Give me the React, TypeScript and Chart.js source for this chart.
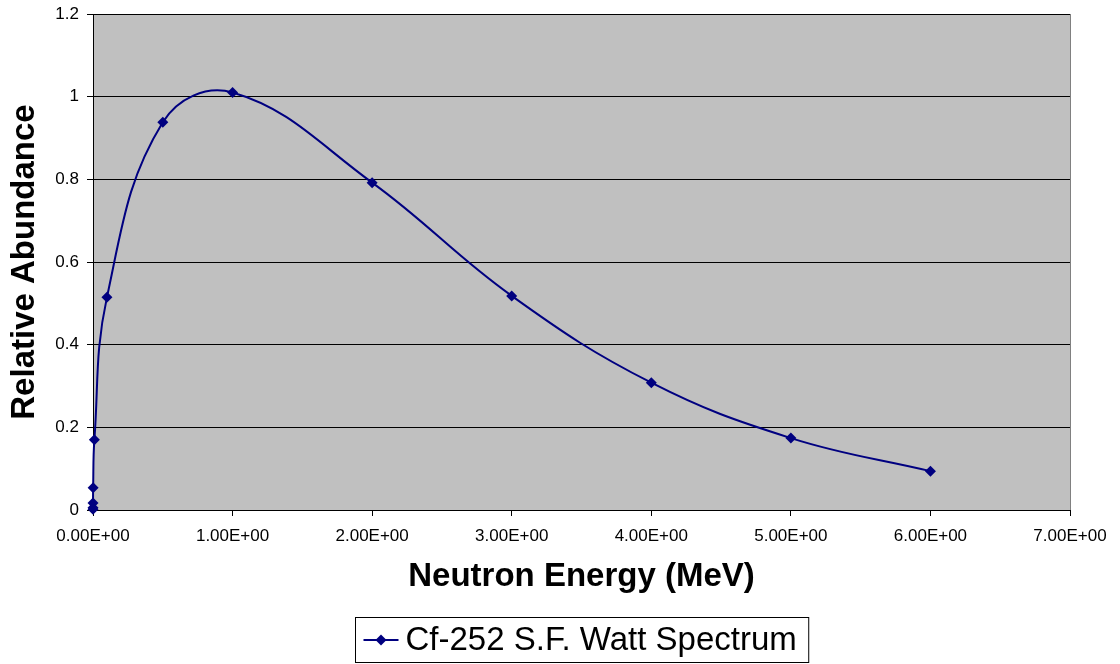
import React, { useEffect, useRef } from "react";
import { Chart, registerables } from "chart.js";

Chart.register(...registerables);

const energies: number[] = [0.000001, 0.00001, 0.0001, 0.001, 0.01, 0.1, 0.5, 1, 2, 3, 4, 5, 6];
const abundance: number[] = [0.0017, 0.0054, 0.017, 0.054, 0.17, 0.515, 0.938, 1.01, 0.792, 0.518, 0.308, 0.174, 0.094];
const seriesLabel = "Cf-252 S.F. Watt Spectrum";
const xTitle = "Neutron Energy (MeV)";
const yTitle = "Relative Abundance";

const FONT = "'Liberation Sans', Arial, sans-serif";
const NAVY = "#000080";

const plotBg = {
  id: "plotBg",
  beforeDraw(chart: any) {
    const { ctx, chartArea } = chart;
    ctx.save();
    ctx.fillStyle = "#C0C0C0";
    ctx.fillRect(chartArea.left, chartArea.top, chartArea.right - chartArea.left, chartArea.bottom - chartArea.top);
    ctx.restore();
  },
  afterDraw(chart: any) {
    const { ctx, chartArea } = chart;
    ctx.save();
    ctx.strokeStyle = "#808080";
    ctx.lineWidth = 1;
    ctx.beginPath();
    ctx.moveTo(Math.round(chartArea.right) + 0.5, chartArea.top);
    ctx.lineTo(Math.round(chartArea.right) + 0.5, chartArea.bottom);
    ctx.stroke();
    // legend box
    const label = chart.data.datasets[0].label;
    ctx.font = `33px ${FONT}`;
    const tw = ctx.measureText(label).width;
    const boxH = 45;
    const sampleW = 50;
    const boxW = tw + sampleW + 12;
    const cx = (chartArea.left + chartArea.right) / 2;
    const bx = Math.round(cx - boxW / 2) + 0.5;
    const by = 617.5;
    ctx.strokeStyle = "#000000";
    ctx.lineWidth = 1;
    ctx.strokeRect(bx, by, boxW, boxH);
    const my = by + boxH / 2;
    ctx.strokeStyle = NAVY;
    ctx.lineWidth = 2;
    ctx.beginPath();
    ctx.moveTo(bx + 8, my);
    ctx.lineTo(bx + 43, my);
    ctx.stroke();
    ctx.fillStyle = NAVY;
    ctx.beginPath();
    const dx = bx + 25.5;
    ctx.moveTo(dx, my - 5.5);
    ctx.lineTo(dx + 5.5, my);
    ctx.lineTo(dx, my + 5.5);
    ctx.lineTo(dx - 5.5, my);
    ctx.closePath();
    ctx.fill();
    ctx.fillStyle = "#000000";
    ctx.textBaseline = "middle";
    ctx.textAlign = "left";
    ctx.fillText(label, bx + sampleW, my + 1);
    ctx.restore();
  },
};

export default function App() {
  const ref = useRef<HTMLCanvasElement | null>(null);
  useEffect(() => {
    if (!ref.current) return;
    const chart = new Chart(ref.current, {
      type: "scatter",
      data: {
        datasets: [
          {
            label: seriesLabel,
            data: energies.map((e, i) => ({ x: e, y: abundance[i] })),
            showLine: true,
            borderColor: NAVY,
            backgroundColor: NAVY,
            borderWidth: 2,
            pointStyle: "rectRot",
            pointRadius: 5.5,
            pointBorderWidth: 0,
            tension: 0.4,
            clip: false as any,
          },
        ],
      },
      plugins: [plotBg],
      options: {
        animation: false,
        responsive: false,
        layout: { padding: { left: 0, right: 50, top: 14, bottom: 0 } },
        plugins: { legend: { display: false }, tooltip: { enabled: false } },
        scales: {
          x: {
            type: "linear",
            min: 0,
            max: 7,
            afterFit: (s: any) => {
              s.height = 154;
              s.paddingLeft = 0;
              s.paddingRight = 0;
            },
            ticks: {
              stepSize: 1,
              padding: 10,
              color: "#000",
              font: { family: FONT, size: 17 },
              maxRotation: 0,
              callback: (v: any) => Number(v).toFixed(2) + "E+00",
            },
            grid: { drawOnChartArea: false, drawTicks: true, tickLength: 6, color: "#000" },
            border: { color: "#000", width: 1 },
            title: {
              display: true,
              text: xTitle,
              color: "#000",
              font: { family: FONT, size: 33, weight: "bold" },
              padding: { top: 0, bottom: 67 },
            },
          },
          y: {
            type: "linear",
            min: 0,
            max: 1.2,
            afterFit: (s: any) => {
              s.width = 93;
              s.paddingTop = 0;
              s.paddingBottom = 0;
            },
            ticks: {
              stepSize: 0.2,
              padding: 8,
              color: "#000",
              font: { family: FONT, size: 17 },
              callback: (v: any) => String(Number(Number(v).toFixed(1))),
            },
            grid: { drawTicks: true, tickLength: 6, color: "#000" },
            border: { color: "#000", width: 1 },
            title: {
              display: true,
              text: yTitle,
              color: "#000",
              font: { family: FONT, size: 33, weight: "bold" },
              padding: { top: 5, bottom: 0 },
            },
          },
        },
      },
    } as any);
    return () => chart.destroy();
  }, []);
  return (
    <div style={{ position: "fixed", left: 0, top: 0, width: 1120, height: 664, background: "#fff" }}>
      <canvas ref={ref} width={1120} height={664} />
    </div>
  );
}
